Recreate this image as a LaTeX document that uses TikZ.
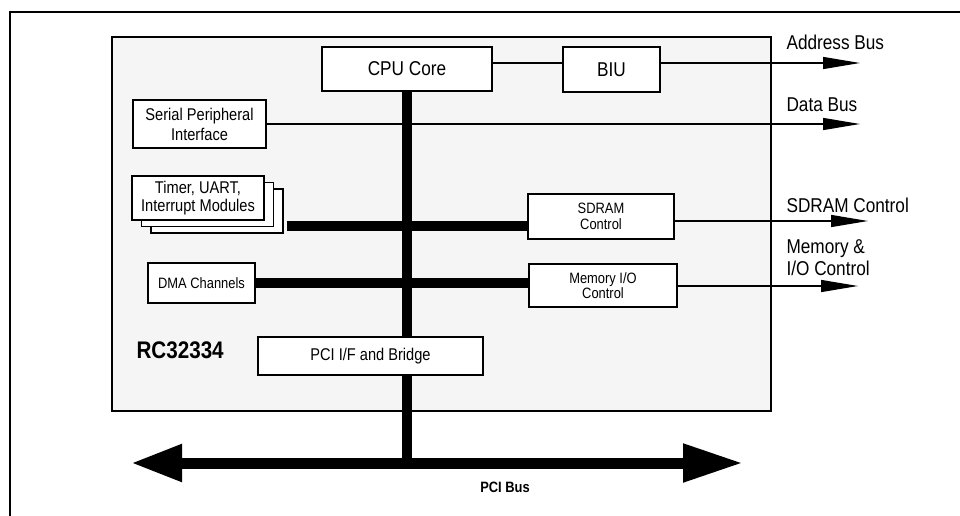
\documentclass[tikz,border=0pt]{standalone}
\usepackage{fontspec}
\setmainfont[FakeStretch=0.86]{Liberation Sans}
\usetikzlibrary{arrows.meta, shadows}

\tikzset{
  blk/.style={draw, fill=white, line width=1.3pt, inner sep=0pt, align=center},
  bus/.style={line width=10pt},
  sig/.style={line width=1.2pt, -{Triangle[length=37pt,width=12pt]}},
}

\begin{document}
\begin{tikzpicture}[x=1pt, y=-1pt]
\useasboundingbox (0,0) rectangle (960,516);
\draw [line width=1.5pt] (960,12) -- (10,12) -- (10,516);
\node [draw, line width=1.5pt, fill=black!4, minimum width=659pt, minimum height=374pt] (chip) at (441.5,224) {};
\node [anchor=base west, font=\fontsize{24}{26}\selectfont\bfseries] (chipname) at (133,358) {RC32334};
\node [blk, minimum width=170pt, minimum height=44pt, font=\fontsize{20}{22}\selectfont] (cpu) at (407,69) {CPU Core};
\node [blk, minimum width=97pt, minimum height=45pt, font=\fontsize{20}{22}\selectfont] (biu) at (611.5,69.5) {BIU};
\node [blk, minimum width=133pt, minimum height=48pt, font=\fontsize{17}{20}\selectfont] (spi) at (199.5,124) {Serial Peripheral\\Interface};
\node [blk, minimum width=132pt, minimum height=44pt, font=\fontsize{17}{18}\selectfont,
  double copy shadow={shadow xshift=9.5pt, shadow yshift=-6.5pt}] (timer) at (198,198) {Timer, UART,\\Interrupt Modules};
\node [blk, minimum width=146pt, minimum height=45pt, font=\fontsize{15}{16}\selectfont] (sdram) at (601,216.5) {SDRAM\\Control};
\node [blk, minimum width=148pt, minimum height=43pt, font=\fontsize{15}{15}\selectfont] (memio) at (603,285.5) {Memory I/O\\Control};
\node [blk, minimum width=107pt, minimum height=40pt, font=\fontsize{15}{16}\selectfont] (dma) at (201.5,283) {DMA Channels};
\node [blk, minimum width=225pt, minimum height=38pt, font=\fontsize{17}{20}\selectfont] (bridge) at (370.5,356) {PCI I/F and Bridge};
\coordinate (addr) at (860,63);
\coordinate (data) at (860,123);
\coordinate (sdctl) at (868,221);
\coordinate (memctl) at (858,286);
\coordinate (pcil) at (131,463);
\coordinate (pcir) at (743,463);
\coordinate (tbus) at ([xshift=22pt,yshift=-28pt]timer.east);
\node [anchor=base west, font=\fontsize{20}{22}\selectfont] (addrlbl) at (783,50) {Address Bus};
\node [anchor=base west, font=\fontsize{20}{22}\selectfont] (datalbl) at (783,112) {Data Bus};
\node [anchor=base west, font=\fontsize{20}{22}\selectfont] (sdctllbl) at (783,212) {SDRAM Control};
\node [anchor=base west, align=left, font=\fontsize{20}{22}\selectfont] (memctllbl) at (783,275) {Memory \&\\I/O Control};
\node [anchor=base, font=\fontsize{15}{16}\selectfont\bfseries] (pcilbl) at (505,492) {PCI Bus};
\draw [line width=1.2pt] ([yshift=6pt]cpu.east) -- ([yshift=6pt]cpu.east -| biu.west);
\draw [sig] ([yshift=6pt]cpu.east -| biu.east) -- (addr);
\draw [sig] (spi.east) -- (spi.east -| data);
\draw [sig] (sdram.east |- sdctl) -- (sdctl);
\draw [sig] (memio.east |- memctl) -- (memctl);
\draw [bus] (cpu.south) -- (cpu.south |- bridge.north);
\draw [bus] (cpu.south |- bridge.south) -- (cpu.south |- pcil);
\draw [bus] (tbus) -- (tbus -| sdram.west);
\draw [bus] (dma.east) -- (dma.east -| memio.west);
\draw [line width=11pt, {Triangle[length=51pt,width=35pt]}-{Triangle[length=60pt,width=36pt]}] (pcil) -- (pcir);
\end{tikzpicture}
\end{document}
